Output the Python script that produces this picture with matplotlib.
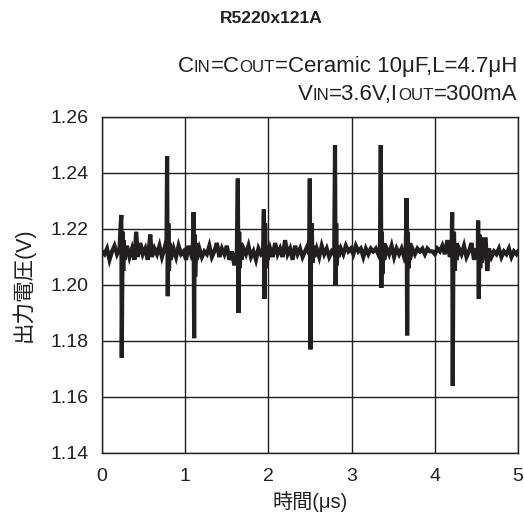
import matplotlib
matplotlib.use("Agg")
import matplotlib.pyplot as plt
from matplotlib.offsetbox import TextArea, HPacker, VPacker, AnnotationBbox

plt.rcParams['font.family'] = ['Liberation Sans', 'Noto Sans CJK JP', 'DejaVu Sans']

# waveform (time in us, output voltage in V)
time_us = [
    0.00, 0.03, 0.06, 0.09, 0.12, 0.15, 0.18, 0.21,
    0.225, 0.232, 0.237, 0.243, 0.248, 0.255, 0.262, 0.27,
    0.30, 0.33, 0.36, 0.39, 0.41, 0.43, 0.46, 0.49, 0.52, 0.55, 0.58, 0.60,
    0.63, 0.66, 0.69, 0.72, 0.75,
    0.775, 0.782, 0.79, 0.797, 0.805, 0.815, 0.825,
    0.86, 0.89, 0.92, 0.95, 0.98, 1.01, 1.04, 1.07, 1.09,
    1.10, 1.107, 1.113, 1.12, 1.13, 1.14,
    1.17, 1.20, 1.23, 1.26, 1.29, 1.32, 1.35, 1.38, 1.41, 1.44, 1.47, 1.50,
    1.53, 1.56, 1.59, 1.62,
    1.632, 1.64, 1.648, 1.656, 1.665, 1.675,
    1.70, 1.73, 1.76, 1.79, 1.82, 1.85, 1.88, 1.91, 1.935,
    1.945, 1.953, 1.96, 1.968, 1.978, 1.99,
    2.02, 2.05, 2.08, 2.11, 2.14, 2.17, 2.20, 2.23, 2.26, 2.29, 2.32, 2.35,
    2.38, 2.41, 2.44, 2.47, 2.49,
    2.497, 2.505, 2.512, 2.52, 2.53, 2.54, 2.55,
    2.58, 2.61, 2.64, 2.67, 2.70, 2.73, 2.76, 2.79,
    2.80, 2.807, 2.814, 2.822, 2.832, 2.842,
    2.87, 2.90, 2.93, 2.96, 2.99, 3.02, 3.05, 3.08, 3.11, 3.14, 3.17, 3.20,
    3.23, 3.26, 3.29, 3.32, 3.34,
    3.35, 3.357, 3.363, 3.37, 3.38, 3.39,
    3.42, 3.45, 3.48, 3.51, 3.54, 3.57, 3.60, 3.63, 3.65,
    3.66, 3.667, 3.674, 3.682, 3.692, 3.70,
    3.73, 3.76, 3.79, 3.82, 3.85, 3.88, 3.91, 3.94, 3.97, 4.00, 4.03, 4.06,
    4.09, 4.12, 4.15, 4.18, 4.20,
    4.208, 4.215, 4.222, 4.23, 4.24, 4.25, 4.26,
    4.29, 4.32, 4.35, 4.38, 4.41, 4.44, 4.47, 4.50, 4.515,
    4.52, 4.528, 4.535, 4.545, 4.555, 4.565,
    4.59, 4.61, 4.63, 4.65, 4.68, 4.71, 4.74, 4.77, 4.80, 4.83, 4.86, 4.89,
    4.92, 4.95, 4.98, 5.00,
]
vout = [
    1.212, 1.211, 1.213, 1.209, 1.212, 1.214, 1.211, 1.213,
    1.222, 1.225, 1.174, 1.196, 1.219, 1.205, 1.216, 1.209,
    1.214, 1.210, 1.213, 1.209, 1.219, 1.210, 1.215, 1.211, 1.213, 1.209, 1.218, 1.210,
    1.213, 1.211, 1.214, 1.210, 1.213,
    1.216, 1.246, 1.196, 1.222, 1.205, 1.215, 1.209,
    1.213, 1.210, 1.214, 1.211, 1.212, 1.209, 1.214, 1.211, 1.213,
    1.226, 1.181, 1.218, 1.203, 1.215, 1.209,
    1.213, 1.210, 1.212, 1.211, 1.214, 1.210, 1.212, 1.215, 1.210, 1.213, 1.211, 1.214,
    1.209, 1.212, 1.207, 1.212,
    1.238, 1.190, 1.219, 1.206, 1.215, 1.209,
    1.213, 1.211, 1.214, 1.210, 1.212, 1.209, 1.213, 1.211, 1.212,
    1.227, 1.195, 1.222, 1.206, 1.214, 1.209,
    1.213, 1.210, 1.215, 1.211, 1.213, 1.210, 1.216, 1.211, 1.213, 1.209, 1.214, 1.211,
    1.213, 1.210, 1.212, 1.214, 1.211,
    1.238, 1.177, 1.210, 1.222, 1.208, 1.214, 1.210,
    1.213, 1.210, 1.214, 1.211, 1.213, 1.210, 1.212, 1.211,
    1.250, 1.200, 1.222, 1.207, 1.214, 1.210,
    1.213, 1.211, 1.214, 1.212, 1.213, 1.211, 1.214, 1.212, 1.213, 1.210, 1.213, 1.211,
    1.213, 1.212, 1.213, 1.211, 1.213,
    1.250, 1.199, 1.219, 1.204, 1.215, 1.209,
    1.213, 1.211, 1.214, 1.210, 1.213, 1.211, 1.213, 1.210, 1.212,
    1.231, 1.182, 1.219, 1.206, 1.215, 1.209,
    1.213, 1.211, 1.213, 1.212, 1.213, 1.211, 1.213, 1.212, 1.212, 1.211, 1.213, 1.212,
    1.214, 1.211, 1.216, 1.210, 1.213,
    1.226, 1.164, 1.210, 1.219, 1.205, 1.215, 1.209,
    1.213, 1.211, 1.214, 1.210, 1.212, 1.215, 1.209, 1.213, 1.211,
    1.223, 1.195, 1.218, 1.206, 1.217, 1.208,
    1.213, 1.217, 1.205, 1.213, 1.210, 1.212, 1.211, 1.213, 1.210, 1.212, 1.211, 1.213,
    1.210, 1.212, 1.211, 1.212,
]

x_ticks = [0, 1, 2, 3, 4, 5]
y_ticks = [1.14, 1.16, 1.18, 1.20, 1.22, 1.24, 1.26]

title = "R5220x121A"
x_label = "時間(μs)"
y_label = "出力電圧(V)"
# (text, small-caps?) pieces of the two condition lines
cond_line1 = [("C", False), ("IN", True), ("=C", False), ("OUT", True),
              ("=Ceramic 10μF,L=4.7μH", False)]
cond_line2 = [("V", False), ("IN", True), ("=3.6V,I", False), ("OUT", True),
              ("=300mA", False)]

ink = "#231f20"

fig = plt.figure(figsize=(5.24, 5.22), dpi=100)
ax = fig.add_axes([0.1947, 0.1322, 0.7940, 0.6437])

ax.plot(time_us, vout, color=ink, lw=3.0, solid_joinstyle="miter")

ax.set_xlim(0, 5)
ax.set_ylim(1.14, 1.26)
ax.set_xticks(x_ticks)
ax.set_yticks(y_ticks)
ax.set_xticklabels([str(t) for t in x_ticks])
ax.set_yticklabels(["%.2f" % t for t in y_ticks])
ax.tick_params(length=0, labelsize=14, colors=ink)
ax.tick_params(axis="y", pad=10)
ax.tick_params(axis="x", pad=11)
ax.grid(True, color=ink, lw=1.0)
ax.set_axisbelow(True)
for sp in ax.spines.values():
    sp.set_color(ink)
    sp.set_linewidth(1.0)

ax.set_xlabel(x_label, fontsize=14.5, labelpad=4, color=ink)
ax.set_ylabel(y_label, fontsize=15.5, labelpad=11, color=ink)

fig.text(0.517, 0.965, title, ha="center", va="center", fontsize=12.5,
         fontweight="bold", color=ink)

size = 16
def make_line(pieces):
    boxes = []
    for txt, small in pieces:
        fs = size * 0.76 if small else size
        boxes.append(TextArea(txt, textprops=dict(fontsize=fs, color=ink)))
    return HPacker(children=boxes, align="baseline", pad=0, sep=0)

block = VPacker(children=[make_line(cond_line1), make_line(cond_line2)],
                align="right", pad=0, sep=5)
ab = AnnotationBbox(block, (0.987, 0.846), xycoords="figure fraction",
                    box_alignment=(1, 0.5), frameon=False, pad=0)
fig.add_artist(ab)

fig.savefig("out.png", dpi=100)
